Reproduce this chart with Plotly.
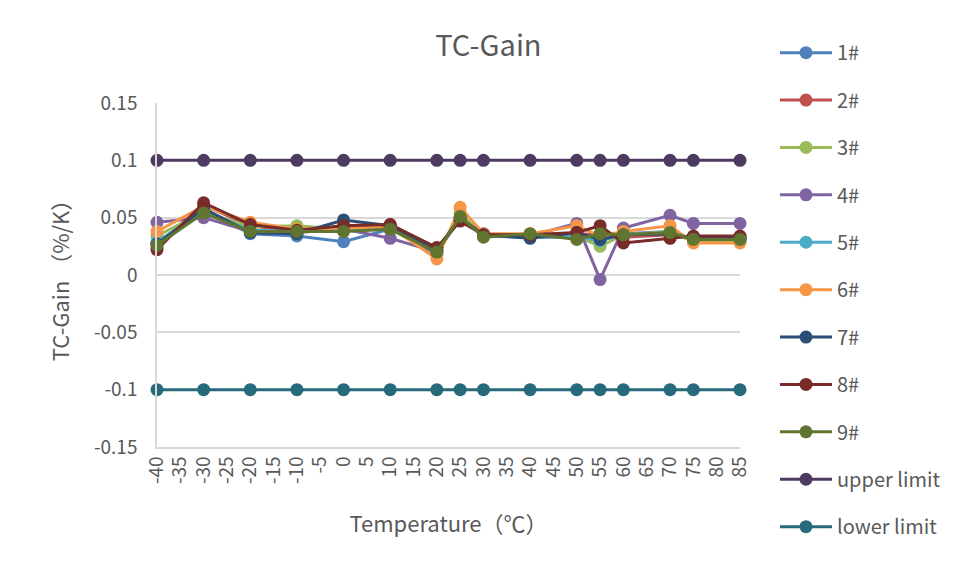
import plotly.graph_objects as go

temps = [-40, -30, -20, -10, 0, 10, 20, 25, 30, 40, 50, 55, 60, 70, 75, 85]

s1 = [0.027, 0.057, 0.036, 0.034, 0.029, 0.040, 0.021, 0.050, 0.034, 0.033, 0.033, 0.030, 0.036, 0.038, 0.031, 0.031]
s2 = [0.024, 0.061, 0.043, 0.038, 0.043, 0.044, 0.023, 0.048, 0.035, 0.035, 0.036, 0.035, 0.033, 0.035, 0.033, 0.033]
s3 = [0.034, 0.055, 0.042, 0.043, 0.040, 0.040, 0.018, 0.054, 0.034, 0.035, 0.034, 0.025, 0.035, 0.038, 0.029, 0.029]
s4 = [0.046, 0.050, 0.038, 0.037, 0.040, 0.032, 0.020, 0.049, 0.036, 0.034, 0.045, -0.004, 0.041, 0.052, 0.045, 0.045]
s5 = [0.029, 0.056, 0.039, 0.038, 0.040, 0.041, 0.020, 0.050, 0.034, 0.035, 0.034, 0.030, 0.035, 0.037, 0.031, 0.031]
s6 = [0.038, 0.060, 0.046, 0.040, 0.041, 0.042, 0.014, 0.059, 0.036, 0.036, 0.043, 0.034, 0.038, 0.043, 0.028, 0.028]
s7 = [0.027, 0.058, 0.037, 0.036, 0.048, 0.043, 0.022, 0.050, 0.035, 0.032, 0.037, 0.031, 0.035, 0.036, 0.032, 0.032]
s8 = [0.022, 0.063, 0.044, 0.039, 0.043, 0.044, 0.024, 0.047, 0.035, 0.035, 0.037, 0.043, 0.028, 0.032, 0.034, 0.034]
s9 = [0.026, 0.054, 0.038, 0.038, 0.038, 0.040, 0.020, 0.051, 0.033, 0.036, 0.031, 0.036, 0.035, 0.037, 0.031, 0.031]
upper_limit = [0.1] * len(temps)
lower_limit = [-0.1] * len(temps)

series_names = ["1#", "2#", "3#", "4#", "5#", "6#", "7#", "8#", "9#", "upper limit", "lower limit"]
series_values = [s1, s2, s3, s4, s5, s6, s7, s8, s9, upper_limit, lower_limit]
series_colors = ["#4F81BD", "#C0504D", "#9BBB59", "#8064A2", "#4BACC6", "#F79646",
                 "#2C4D75", "#772C2A", "#5F7530", "#4D3B62", "#276A7C"]

x_tickvals = list(range(-40, 90, 5))
x_ticktext = [str(v) for v in x_tickvals]
y_tickvals = [0.15, 0.1, 0.05, 0, -0.05, -0.1, -0.15]
y_ticktext = ["0.15", "0.1", "0.05", "0", "-0.05", "-0.1", "-0.15"]

FONT = "Noto Sans CJK SC"
GRAY = "#595959"

fig = go.Figure()
for name, vals, col in zip(series_names, series_values, series_colors):
    fig.add_trace(go.Scatter(
        x=temps, y=vals, name=name, mode="lines+markers",
        line=dict(color=col, width=3),
        marker=dict(color=col, size=13),
        legendgroup=name, cliponaxis=False,
    ))

fig.update_layout(
    width=942, height=563,
    paper_bgcolor="white", plot_bgcolor="white",
    margin=dict(l=149, r=210, t=95, b=124, autoexpand=False),
    font=dict(family=FONT, color=GRAY, size=19),
    title=dict(text="TC-Gain", x=0.51, xanchor="center", y=0.933, yanchor="middle",
               font=dict(size=29, color=GRAY, family=FONT)),
    showlegend=True,
    legend=dict(x=1.06, xanchor="left", y=1.203, yanchor="top", maxheight=1,
                font=dict(size=20, color=GRAY, family=FONT),
                tracegroupgap=18.4, itemwidth=52, bgcolor="rgba(0,0,0,0)"),
    xaxis=dict(range=[-40, 85], tickmode="array", tickvals=x_tickvals, ticktext=x_ticktext,
               tickangle=-90, showgrid=False, zeroline=False,
               showline=True, linecolor="#D9D9D9", linewidth=1.5,
               tickfont=dict(size=19, color=GRAY), ticks="",
               title=dict(text="Temperature（℃）", font=dict(size=22, color=GRAY), standoff=34)),
    yaxis=dict(range=[-0.15, 0.15], tickmode="array", tickvals=y_tickvals, ticktext=y_ticktext,
               showgrid=True, gridcolor="#D9D9D9", gridwidth=1.5, zeroline=False,
               showline=True, linecolor="#D9D9D9", linewidth=1.5, ticks="",
               tickfont=dict(size=19, color=GRAY), ticklabelstandoff=14,
               title=dict(text="TC-Gain （%/K）", font=dict(size=22, color=GRAY), standoff=18)),
)

fig.write_html("out.html")
